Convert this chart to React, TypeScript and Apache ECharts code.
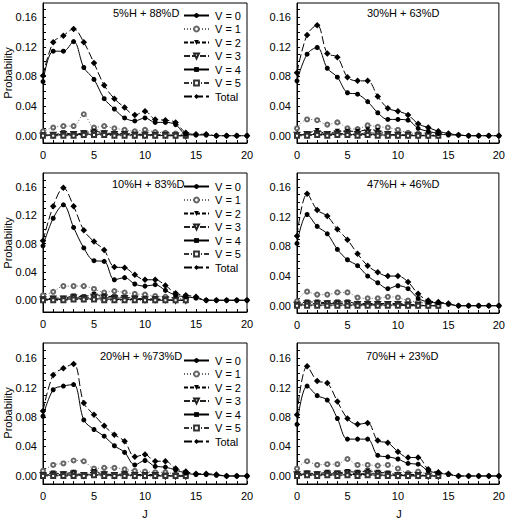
import React, { useEffect, useRef } from "react";
import * as echarts from "echarts";

const J = [0, 1, 2, 3, 4, 5, 6, 7, 8, 9, 10, 11, 12, 13, 14, 15, 16, 17, 18, 19, 20];
const J_LOW = [0, 1, 2, 3, 4, 5, 6, 7, 8, 9, 10, 11, 12, 13, 14];
const X_LABELS = [0, 5, 10, 15, 20];
const Y_LABELS = [0, 0.04, 0.08, 0.12, 0.16];
const Y_TICKS = [0, 0.01, 0.02, 0.03, 0.04, 0.05, 0.06, 0.07, 0.08, 0.09, 0.1, 0.11, 0.12, 0.13, 0.14, 0.15, 0.16, 0.17];
const SERIES_NAMES = ["V = 0", "V = 1", "V = 2", "V = 3", "V = 4", "V = 5", "Total"];
const PANEL_TITLES = ["5%H + 88%D", "30%H + 63%D", "10%H + 83%D", "47%H + 46%D", "20%H + %73%D", "70%H + 23%D"];

// Panel 1: 5%H + 88%D
const p1V0 = [0.073, 0.114, 0.114, 0.127, 0.092, 0.076, 0.05, 0.036, 0.024, 0.02, 0.024, 0.018, 0.018, 0.015, 0.002, 0.001, 0.001, 0, 0, 0, 0];
const p1V1 = [0.006, 0.011, 0.013, 0.013, 0.029, 0.011, 0.013, 0.01, 0.008, 0.006, 0.008, 0.005, 0.004, 0.003, 0.001];
const p1V2 = [0.001, 0.001, 0.004, 0.002, 0.004, 0.006, 0.004, 0.003, 0.003, 0.002, 0.002, 0.001, 0.001, 0.001, 0];
const p1V3 = [0, 0.001, 0.002, 0.002, 0.003, 0.004, 0.003, 0.002, 0.002, 0.001, 0.001, 0.001, 0.001, 0, 0];
const p1V4 = [0.001, 0.001, 0.001, 0.001, 0.002, 0.002, 0.002, 0.001, 0.001, 0.001, 0.001, 0.001, 0, 0, 0];
const p1V5 = [0, 0, 0, 0, 0.001, 0.001, 0.001, 0, 0, 0, 0, 0, 0, 0, 0];
const p1Total = [0.081, 0.126, 0.135, 0.144, 0.126, 0.098, 0.068, 0.05, 0.038, 0.028, 0.033, 0.022, 0.021, 0.018, 0.004, 0.002, 0.002, 0, 0, 0, 0];

// Panel 2: 30%H + 63%D
const p2V0 = [0.074, 0.11, 0.119, 0.091, 0.079, 0.058, 0.056, 0.046, 0.031, 0.022, 0.022, 0.021, 0.01, 0.006, 0.003, 0.001, 0.001, 0, 0, 0, 0];
const p2V1 = [0.01, 0.022, 0.021, 0.015, 0.018, 0.01, 0.009, 0.014, 0.012, 0.011, 0.008, 0.004, 0.003, 0.002, 0.001];
const p2V2 = [0.001, 0.003, 0.007, 0.002, 0.006, 0.006, 0.006, 0.008, 0.007, 0.002, 0.001, 0.001, 0.001, 0, 0];
const p2V3 = [0.001, 0.002, 0.003, 0.002, 0.003, 0.003, 0.002, 0.004, 0.003, 0.002, 0.001, 0.001, 0, 0, 0];
const p2V4 = [0.001, 0.001, 0.002, 0.001, 0.002, 0.002, 0.001, 0.002, 0.001, 0.001, 0.001, 0, 0, 0, 0];
const p2V5 = [0, 0, 0.001, 0, 0.001, 0.001, 0, 0.001, 0, 0, 0, 0, 0, 0, 0];
const p2Total = [0.085, 0.136, 0.149, 0.111, 0.106, 0.079, 0.074, 0.074, 0.053, 0.037, 0.033, 0.028, 0.016, 0.011, 0.006, 0.003, 0.001, 0, 0, 0, 0];

// Panel 3: 10%H + 83%D
const p3V0 = [0.077, 0.116, 0.135, 0.103, 0.074, 0.056, 0.055, 0.029, 0.032, 0.023, 0.02, 0.022, 0.014, 0.007, 0.005, 0.003, 0, 0, 0, 0, 0];
const p3V1 = [0.007, 0.012, 0.02, 0.02, 0.02, 0.016, 0.011, 0.013, 0.011, 0.009, 0.008, 0.006, 0.005, 0.003, 0.002];
const p3V2 = [0.001, 0.003, 0.003, 0.006, 0.005, 0.008, 0.006, 0.005, 0.004, 0.003, 0.002, 0.002, 0.001, 0, 0];
const p3V3 = [0.001, 0.002, 0.002, 0.004, 0.003, 0.005, 0.004, 0.003, 0.003, 0.002, 0.001, 0.001, 0.001, 0, 0];
const p3V4 = [0.001, 0.001, 0.001, 0.002, 0.002, 0.002, 0.002, 0.001, 0.001, 0.001, 0.001, 0, 0, 0, 0];
const p3V5 = [0, 0, 0, 0.001, 0.001, 0.001, 0, 0, 0, 0, 0, 0, 0, 0, 0];
const p3Total = [0.084, 0.133, 0.159, 0.133, 0.099, 0.083, 0.071, 0.047, 0.046, 0.036, 0.029, 0.029, 0.021, 0.01, 0.007, 0.005, 0, 0, 0, 0, 0];

// Panel 4: 47%H + 46%D
const p4V0 = [0.084, 0.123, 0.107, 0.097, 0.076, 0.062, 0.054, 0.04, 0.031, 0.023, 0.027, 0.023, 0.01, 0.005, 0.004, 0.002, 0, 0, 0, 0, 0];
const p4V1 = [0.006, 0.019, 0.015, 0.015, 0.018, 0.018, 0.011, 0.01, 0.01, 0.012, 0.011, 0.007, 0.005, 0.003, 0.002];
const p4V2 = [0.002, 0.005, 0.005, 0.004, 0.005, 0.005, 0.003, 0.003, 0.003, 0.003, 0.003, 0.002, 0.001, 0, 0];
const p4V3 = [0.001, 0.003, 0.003, 0.003, 0.003, 0.003, 0.002, 0.002, 0.002, 0.002, 0.002, 0.001, 0.001, 0, 0];
const p4V4 = [0.001, 0.001, 0.001, 0.001, 0.001, 0.001, 0.001, 0.001, 0.001, 0.001, 0.001, 0, 0, 0, 0];
const p4V5 = [0, 0, 0, 0, 0, 0, 0, 0, 0, 0, 0, 0, 0, 0, 0];
const p4Total = [0.094, 0.151, 0.129, 0.121, 0.103, 0.089, 0.07, 0.054, 0.045, 0.04, 0.04, 0.032, 0.016, 0.007, 0.005, 0.003, 0, 0, 0, 0, 0];

// Panel 5: 20%H + %73%D
const p5V0 = [0.081, 0.117, 0.122, 0.124, 0.076, 0.063, 0.054, 0.041, 0.032, 0.015, 0.021, 0.013, 0.012, 0.008, 0.004, 0.002, 0.002, 0.001, 0, 0, 0];
const p5V1 = [0.007, 0.015, 0.017, 0.021, 0.02, 0.01, 0.011, 0.011, 0.009, 0.007, 0.006, 0.005, 0.005, 0.002, 0.001];
const p5V2 = [0.002, 0.004, 0.003, 0.005, 0.001, 0.006, 0.003, 0.002, 0.003, 0.002, 0.002, 0.002, 0.001, 0, 0];
const p5V3 = [0.001, 0.002, 0.002, 0.003, 0.001, 0.004, 0.002, 0.001, 0.002, 0.001, 0.001, 0.001, 0, 0, 0];
const p5V4 = [0.001, 0.001, 0.001, 0.001, 0.001, 0.002, 0.001, 0.001, 0.001, 0.001, 0.001, 0, 0, 0, 0];
const p5V5 = [0, 0, 0, 0, 0, 0.001, 0, 0, 0, 0, 0, 0, 0, 0, 0];
const p5Total = [0.088, 0.137, 0.146, 0.152, 0.099, 0.083, 0.068, 0.056, 0.047, 0.026, 0.029, 0.02, 0.02, 0.01, 0.006, 0.003, 0.003, 0.002, 0, 0, 0];

// Panel 6: 70%H + 23%D
const p6V0 = [0.07, 0.122, 0.109, 0.103, 0.078, 0.05, 0.05, 0.05, 0.028, 0.026, 0.023, 0.017, 0.016, 0.007, 0.004, 0.002, 0, 0, 0, 0, 0];
const p6V1 = [0.01, 0.02, 0.015, 0.016, 0.016, 0.023, 0.015, 0.015, 0.014, 0.015, 0.01, 0.004, 0.006, 0.002, 0.001];
const p6V2 = [0.003, 0.004, 0.003, 0.005, 0.004, 0.006, 0.005, 0.007, 0.005, 0.004, 0.002, 0.002, 0.002, 0, 0];
const p6V3 = [0.002, 0.003, 0.002, 0.003, 0.003, 0.004, 0.003, 0.004, 0.003, 0.002, 0.001, 0.001, 0.001, 0, 0];
const p6V4 = [0.001, 0.002, 0.001, 0.002, 0.001, 0.002, 0.002, 0.002, 0.001, 0.001, 0.001, 0, 0, 0, 0];
const p6V5 = [0, 0.001, 0, 0.001, 0, 0.001, 0, 0.001, 0, 0, 0, 0, 0, 0, 0];
const p6Total = [0.083, 0.149, 0.129, 0.126, 0.101, 0.078, 0.07, 0.072, 0.048, 0.045, 0.033, 0.025, 0.025, 0.009, 0.005, 0.003, 0, 0, 0, 0, 0];

const PANELS = [
  [p1V0, p1V1, p1V2, p1V3, p1V4, p1V5, p1Total],
  [p2V0, p2V1, p2V2, p2V3, p2V4, p2V5, p2Total],
  [p3V0, p3V1, p3V2, p3V3, p3V4, p3V5, p3Total],
  [p4V0, p4V1, p4V2, p4V3, p4V4, p4V5, p4Total],
  [p5V0, p5V1, p5V2, p5V3, p5V4, p5V5, p5Total],
  [p6V0, p6V1, p6V2, p6V3, p6V4, p6V5, p6Total],
];

const FONT = "'Liberation Sans', Arial, Helvetica, sans-serif";

// layout (pixels)
const GRIDS = [
  { left: 43, top: 3, width: 204, height: 140, min: -0.0098, max: 0.179 },
  { left: 297, top: 3, width: 204, height: 140, min: -0.0098, max: 0.179 },
  { left: 43, top: 173, width: 204, height: 139, min: -0.0166, max: 0.18 },
  { left: 297, top: 173, width: 204, height: 140, min: -0.0098, max: 0.179 },
  { left: 43, top: 343, width: 204, height: 141, min: -0.0109, max: 0.1804 },
  { left: 297, top: 343, width: 204, height: 141, min: -0.0109, max: 0.1804 },
];
const TITLE_POS = [
  [113, 14], [367, 14], [112, 185], [367, 185], [100, 357], [366, 357],
];
const LEGEND_TOPS = [10, 181, 355];

const STYLES: any[] = [
  { symbol: "circle", size: 5, type: "solid", color: "#000", z: 6 },
  { symbol: "emptyCircle", size: 4, type: [1, 2], color: "#666", z: 3, empty: true },
  { symbol: "triangle", size: 5, type: [4, 2], color: "#000", z: 3, rotate: 180 },
  { symbol: "emptyTriangle", size: 4.5, type: [6, 2], color: "#222", z: 3, rotate: 180, empty: true },
  { symbol: "rect", size: 4, type: "solid", color: "#000", z: 3 },
  { symbol: "emptyRect", size: 4, type: [5, 2, 1, 2], color: "#333", z: 3, empty: true },
  { symbol: "diamond", size: 6.5, type: [8, 3], color: "#000", z: 7 },
];

function buildOption() {
  const grid: any[] = [];
  const xAxis: any[] = [];
  const yAxis: any[] = [];
  const series: any[] = [];
  const graphic: any[] = [];
  const legend: any[] = [];

  GRIDS.forEach((g, i) => {
    grid.push({
      left: g.left, top: g.top, width: g.width, height: g.height,
      show: true, borderColor: "#000", borderWidth: 1, backgroundColor: "transparent",
    });
    xAxis.push({
      type: "value", gridIndex: i, min: 0, max: 20, interval: 1,
      axisLine: { show: true, onZero: false, lineStyle: { color: "#000", width: 1 } },
      axisTick: { show: true, inside: true, length: 3, lineStyle: { color: "#000" } },
      axisLabel: { customValues: X_LABELS, color: "#000", fontSize: 11, fontFamily: FONT, margin: 6 },
      splitLine: { show: false },
    });
    yAxis.push({
      type: "value", gridIndex: i, min: g.min, max: g.max,
      axisLine: { show: true, onZero: false, lineStyle: { color: "#000", width: 1 } },
      axisTick: { show: true, inside: true, length: 3, customValues: Y_TICKS, lineStyle: { color: "#000" } },
      axisLabel: {
        customValues: Y_LABELS, color: "#000", fontSize: 11, fontFamily: FONT, margin: 6,
        formatter: (v: number) => v.toFixed(2),
      },
      splitLine: { show: false },
    });

    const data = PANELS[i];
    data.forEach((vals, k) => {
      const st = STYLES[k];
      const xs = vals.length === J.length ? J : J_LOW;
      series.push({
        type: "line",
        name: SERIES_NAMES[k],
        xAxisIndex: i,
        yAxisIndex: i,
        data: vals.map((v, idx) => [xs[idx], v]),
        smooth: 0.35,
        symbol: st.symbol,
        symbolSize: st.size,
        symbolRotate: st.rotate || 0,
        showSymbol: true,
        clip: false,
        z: st.z,
        lineStyle: { color: st.color, width: 1, type: st.type },
        itemStyle: st.empty
          ? { color: st.color, borderColor: st.color, borderWidth: 1 }
          : { color: st.color },
        emphasis: { disabled: true },
      });
    });

    graphic.push({
      type: "text",
      left: TITLE_POS[i][0],
      top: TITLE_POS[i][1] - 7,
      style: { text: PANEL_TITLES[i], font: `11px ${FONT}`, fill: "#000" },
    });
  });

  // y-axis names (left column only)
  [73, 243, 413].forEach((cy) => {
    graphic.push({
      type: "text",
      x: 8, y: cy, rotation: Math.PI / 2,
      style: { text: "Probability", font: `11px ${FONT}`, fill: "#000", align: "center", verticalAlign: "middle" },
    });
  });
  // x-axis names (bottom row)
  [145, 399].forEach((cx) => {
    graphic.push({
      type: "text",
      x: cx, y: 514,
      style: { text: "J", font: `11px ${FONT}`, fill: "#000", align: "center", verticalAlign: "middle" },
    });
  });

  LEGEND_TOPS.forEach((t) => {
    legend.push({
      orient: "vertical",
      left: 183, top: t,
      data: SERIES_NAMES,
      itemWidth: 25, itemHeight: 6, itemGap: 2.5,
      selectedMode: false,
      textStyle: { fontSize: 11, fontFamily: FONT, color: "#000", padding: [0, 0, 0, 1] },
      padding: 0,
    });
  });

  return {
    animation: false,
    backgroundColor: "#fff",
    textStyle: { fontFamily: FONT },
    grid, xAxis, yAxis, series, graphic, legend,
  };
}

export default function App() {
  const ref = useRef<HTMLDivElement>(null);
  useEffect(() => {
    document.body.style.margin = "0";
    const chart = echarts.init(ref.current!, null, { renderer: "svg", width: 508, height: 520 });
    chart.setOption(buildOption() as any);
    return () => chart.dispose();
  }, []);
  return <div ref={ref} style={{ width: 508, height: 520, position: "absolute", left: 0, top: 0 }} />;
}
